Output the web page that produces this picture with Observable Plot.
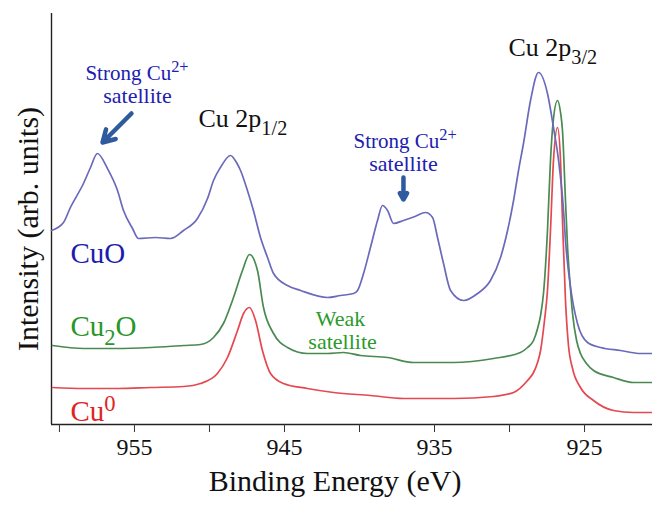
<!DOCTYPE html>
<html>
<head>
<meta charset="utf-8">
<script src="https://cdn.jsdelivr.net/npm/d3@7"></script>
<script src="https://cdn.jsdelivr.net/npm/@observablehq/plot@0.6"></script>
<style>
  html, body { margin: 0; padding: 0; background: #fff; }
</style>
</head>
<body>
<div id="chart"></div>
<script>
// ---- data (binding energy in eV, intensity in arbitrary units) ----
const xDomain = [960.53, 920.47];
const yDomain = [0, 411];
const xTicks = [960, 955, 950, 945, 940, 935, 930, 925];
const xTickLabels = [955, 945, 935, 925];

const cuO = [
  [960.53,194],[959.73,202],[959.27,217],[958.4,241],[957.93,257],[957.47,271],
  [956.8,256],[956.13,234],[955.73,214],[955.13,196],[954.73,186],[953.6,187],[952.6,186],
  [951.73,194],[950.8,206],[950.13,226],[949.73,244],[949.27,257],[948.6,269],
  [948.2,262],[947.93,254],[947.47,234],[947.07,214],[946.6,187],[946.13,167],[945.73,151],
  [944.8,139],[943.93,134],[942.13,127],[941.27,129],[940.4,131],[940.13,134],
  [939.73,151],[939.27,177],[938.8,204],[938.47,219],[938.13,214],[937.73,201],
  [937.07,204],[936.3,208],[935.6,212],[935.13,207],[934.8,187],[934.4,161],[933.93,134],
  [933.07,124],[932.13,131],[931.27,144],[930.6,167],[930.13,194],[929.73,224],
  [929.4,254],[929.07,281],[928.6,324],[928.07,352],[927.47,331],[927.07,297],
  [926.73,264],[926.4,214],[926.27,184],[925.93,137],[925.47,101],[924.8,82],
  [923.93,77],[922.6,74],[921.27,71],[920.47,71]
];

const cu2O = [
  [960.47,79],[958.4,76],[956.13,76],[953.93,77],[951.73,79],[950.6,80],[949.73,87],
  [949.07,101],[948.4,127],[947.8,154],[947.33,170],[946.8,154],[946.4,117],
  [945.73,91],[944.8,77],[943.47,71],[942.13,71],[941.07,72],[939.93,69],[938.13,67],
  [936.4,62],[933.73,62],[931.07,66],[929.27,72],[928.8,77],[928.4,84],[928.13,96],
  [927.93,109],[927.73,132],[927.47,194],[927.27,264],[927.07,306],[926.8,324],
  [926.6,312],[926.47,294],[926.27,224],[926.13,177],[925.93,134],[925.8,111],
  [925.53,84],[925.27,71],[924.87,61],[924.4,54],[923.07,47],[921.73,42],[920.47,42]
];

const cu0 = [
  [960.47,37],[958.4,36],[956.13,36],[953.93,37],[951.73,38],[950.6,41],[949.47,51],
  [948.8,67],[948.13,94],[947.73,111],[947.33,117],[946.93,104],[946.47,74],
  [945.93,51],[945.07,41],[943.47,36],[941.73,32],[939.27,29],[937.07,26],[933.73,26],
  [931.07,28],[929.73,32],[928.8,44],[928.4,52],[928.13,62],[927.93,74],[927.67,104],
  [927.47,134],[927.27,194],[927.07,264],[926.8,297],[926.6,264],[926.47,204],
  [926.27,124],[926.07,79],[925.8,56],[925.27,37],[924.4,24],[923.07,14],[921.73,12],[920.47,12]
];

// annotations: text, energy, intensity (baseline), anchor
const annotations = [
  {t: "Strong Cu^{2+}", e: 958.27, i: 345, a: "start", c: "#2020b0", s: 21},
  {t: "satellite",      e: 954.8,  i: 322, a: "middle", c: "#2020b0", s: 22},
  {t: "Cu 2p_{1/2}",    e: 950.73, i: 298, a: "start", c: "#111", s: 26},
  {t: "Cu 2p_{3/2}",    e: 930.07, i: 369, a: "start", c: "#111", s: 26},
  {t: "Strong Cu^{2+}", e: 940.4,  i: 277, a: "start", c: "#2020b0", s: 21},
  {t: "satellite",      e: 937.07, i: 254, a: "middle", c: "#2020b0", s: 22},
  {t: "CuO",            e: 959.27, i: 162, a: "start", c: "#1c1cb0", s: 29},
  {t: "Cu_{2}O",        e: 959.27, i: 89,  a: "start", c: "#2a962a", s: 29},
  {t: "Cu^{0}",         e: 959.27, i: 4,   a: "start", c: "#e02424", s: 29},
  {t: "Weak",           e: 941.27, i: 99,  a: "middle", c: "#2a9a2a", s: 22},
  {t: "satellite",      e: 941.13, i: 76,  a: "middle", c: "#2a9a2a", s: 22}
];

const arrows = [
  {e1: 955.2, i1: 311, e2: 957.13, i2: 282},
  {e1: 937.07, i1: 247, e2: 937.07, i2: 225}
];

const toRows = arr => arr.map(([e, i]) => ({e, i}));

const chart = Plot.plot({
  width: 652,
  height: 505,
  marginLeft: 51,
  marginRight: 0,
  marginTop: 13,
  marginBottom: 81,
  style: {fontFamily: "'Liberation Serif', 'Times New Roman', serif", background: "#fff", color: "#111"},
  x: {domain: xDomain, label: null},
  y: {domain: yDomain, axis: null},
  color: {type: "identity"},
  marks: [
    Plot.ruleX([xDomain[0]], {stroke: "#222", strokeWidth: 1.4}),
    Plot.ruleY([yDomain[0]], {stroke: "#222", strokeWidth: 1.4}),
    Plot.axisX({
      ticks: xTicks,
      tickSize: 8,
      tickPadding: 5,
      tickFormat: d => xTickLabels.includes(d) ? String(d) : "",
      fontSize: 24,
      label: null,
      stroke: "#333"
    }),
    Plot.line(toRows(cu0), {x: "e", y: "i", stroke: "#e44850", strokeWidth: 1.7, curve: "monotone-x"}),
    Plot.line(toRows(cu2O), {x: "e", y: "i", stroke: "#4a8a52", strokeWidth: 1.7, curve: "monotone-x"}),
    Plot.line(toRows(cuO), {x: "e", y: "i", stroke: "#6a6abb", strokeWidth: 1.7, curve: "monotone-x"}),
    Plot.text(annotations.filter(d => d.a === "start"), {
      x: "e", y: "i", text: "t", fill: "c", fontSize: d => d.s, textAnchor: "start", lineAnchor: "bottom"
    }),
    Plot.text(annotations.filter(d => d.a === "middle"), {
      x: "e", y: "i", text: "t", fill: "c", fontSize: d => d.s, textAnchor: "middle", lineAnchor: "bottom"
    }),
    Plot.arrow(arrows, {
      x1: "e1", y1: "i1", x2: "e2", y2: "i2", stroke: "#2f5a9e", strokeWidth: 4.5, headLength: 10
    }),
    Plot.text(["Binding Energy (eV)"], {frameAnchor: "bottom", textAnchor: "middle", dx: -17, dy: 66, fontSize: 30, fill: "#111"}),
    Plot.text(["Intensity (arb. units)"], {frameAnchor: "left", textAnchor: "middle", rotate: -90, dx: -23, dy: 10, fontSize: 30, fill: "#111"})
  ]
});

document.getElementById("chart").appendChild(chart);

// render _{sub} and ^{sup} as tspans
const NS = "http://www.w3.org/2000/svg";
chart.querySelectorAll("text").forEach(t => {
  const s = t.textContent;
  if (!/[_^]\{/.test(s)) return;
  const fs = parseFloat(getComputedStyle(t).fontSize) || 20;
  while (t.firstChild) t.removeChild(t.firstChild);
  let shift = 0;
  const add = (txt, kind) => {
    if (!txt) return;
    const ts = document.createElementNS(NS, "tspan");
    ts.textContent = txt;
    const target = kind === "_" ? 0.32 * fs : kind === "^" ? -0.34 * fs : 0;
    const dy = target - shift;
    if (dy) ts.setAttribute("dy", dy.toFixed(2));
    shift = target;
    if (kind) ts.setAttribute("font-size", (0.78 * fs).toFixed(2));
    t.appendChild(ts);
  };
  const re = /([_^])\{([^}]*)\}/g;
  let last = 0, m;
  while ((m = re.exec(s))) {
    add(s.slice(last, m.index), null);
    add(m[2], m[1]);
    last = re.lastIndex;
  }
  add(s.slice(last), null);
});
</script>
</body>
</html>
